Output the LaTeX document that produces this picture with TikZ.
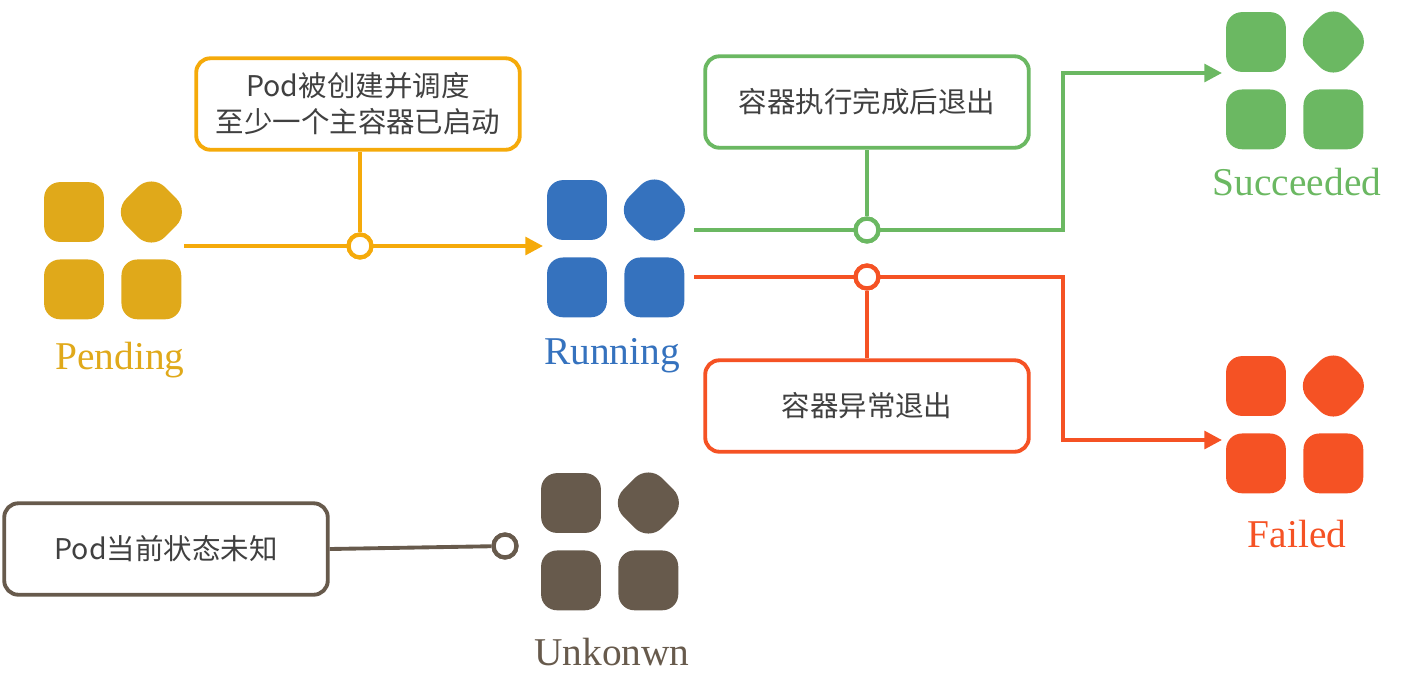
\documentclass[tikz,border=0pt]{standalone}
\usepackage{fontspec}
\setmainfont{Liberation Serif}
\newfontfamily\cjk{Noto Sans CJK SC}
\usetikzlibrary{arrows.meta,positioning}
\definecolor{pendc}{HTML}{E0A91A}
\definecolor{pendl}{HTML}{F5AA0A}
\definecolor{runc}{HTML}{3572BE}
\definecolor{succc}{HTML}{6BB862}
\definecolor{failc}{HTML}{F55224}
\definecolor{unkc}{HTML}{675A4C}
\tikzset{
  sq/.style={draw=none, minimum size=17pt, rounded corners=4.5pt},
  dia/.style={draw=none, minimum size=15.5pt, rounded corners=5.5pt, rotate=45},
  state/.style={font=\fontsize{11.2}{13}\selectfont},
  note/.style={draw, line width=1.1pt, rounded corners=4pt, minimum width=92pt,
    minimum height=26pt, align=center, text=black!75,
    font=\cjk\fontsize{8.1}{10.2}\selectfont},
  link/.style={line width=1.1pt},
  knot/.style={circle, draw, fill=white, line width=1.2pt, inner sep=0pt, minimum size=6.5pt},
  tip/.style={-{Triangle[length=5pt,width=5pt]}}
}
% one pod: four container blocks
\newcommand{\podicon}[3]{%
  \node[sq, fill=#2] (#1-tl) at (#3) {};
  \node[dia, fill=#2, right=22pt of #1-tl.center, anchor=center] (#1-tr) {};
  \node[sq, fill=#2, below=22pt of #1-tl.center, anchor=center] (#1-bl) {};
  \node[sq, fill=#2, right=22pt of #1-bl.center, anchor=center] (#1-br) {};
}
\begin{document}
\begin{tikzpicture}[x=0.01cm,y=-0.01cm]
\useasboundingbox (0,0) rectangle (1402,696);

\podicon{pend}{pendc}{74,212}
\podicon{run}{runc}{577,210}
\podicon{succ}{succc}{1256,42}
\podicon{fail}{failc}{1256,386}
\podicon{unk}{unkc}{571,503}

\node[state, text=pendc] (pendlbl) at (120,360) {Pending};
\node[state, text=runc] (runlbl) at (612,356) {Running};
\node[state, text=succc] (succlbl) at (1297,182) {Succeeded};
\node[state, text=failc] (faillbl) at (1297,534) {Failed};
\node[state, text=unkc] (unklbl) at (612,652) {Unkonwn};

\node[note, draw=pendl] (create) at (358,104) {Pod被创建并调度\\至少一个主容器已启动};
\node[note, draw=succc] (done) at (867,102) {容器执行完成后退出};
\node[note, draw=failc] (crash) at (867,406) {容器异常退出};
\node[note, draw=unkc] (lost) at (166,549) {Pod当前状态未知};

% Pending -> Running
\coordinate (p0) at (184,246);
\coordinate (p1) at (543,246);
\node[knot, draw=pendl] (pk) at (360,246) {};
\draw[link, pendl, tip] (p0) -- (p1);
\draw[link, pendl] (pk) -- (pk |- create.south);
\node[knot, draw=pendl] at (pk) {};

% Running -> Succeeded
\coordinate (s0) at (694,230);
\coordinate (s1) at (1222,73);
\node[knot, draw=succc] (sk) at (867,230) {};
\draw[link, succc, tip] (s0) -- (1063,230) |- (s1);
\draw[link, succc] (sk) -- (done.south);
\node[knot, draw=succc] at (sk) {};

% Running -> Failed
\coordinate (f0) at (694,277);
\coordinate (f1) at (1222,440);
\node[knot, draw=failc] (fk) at (867,277) {};
\draw[link, failc, tip] (f0) -- (1063,277) |- (f1);
\draw[link, failc] (fk) -- (crash.north);
\node[knot, draw=failc] at (fk) {};

% Unknown
\node[knot, draw=unkc] (uk) at (505,546) {};
\draw[link, unkc] (lost.east) -- (uk);
\node[knot, draw=unkc] at (uk) {};
\end{tikzpicture}
\end{document}
